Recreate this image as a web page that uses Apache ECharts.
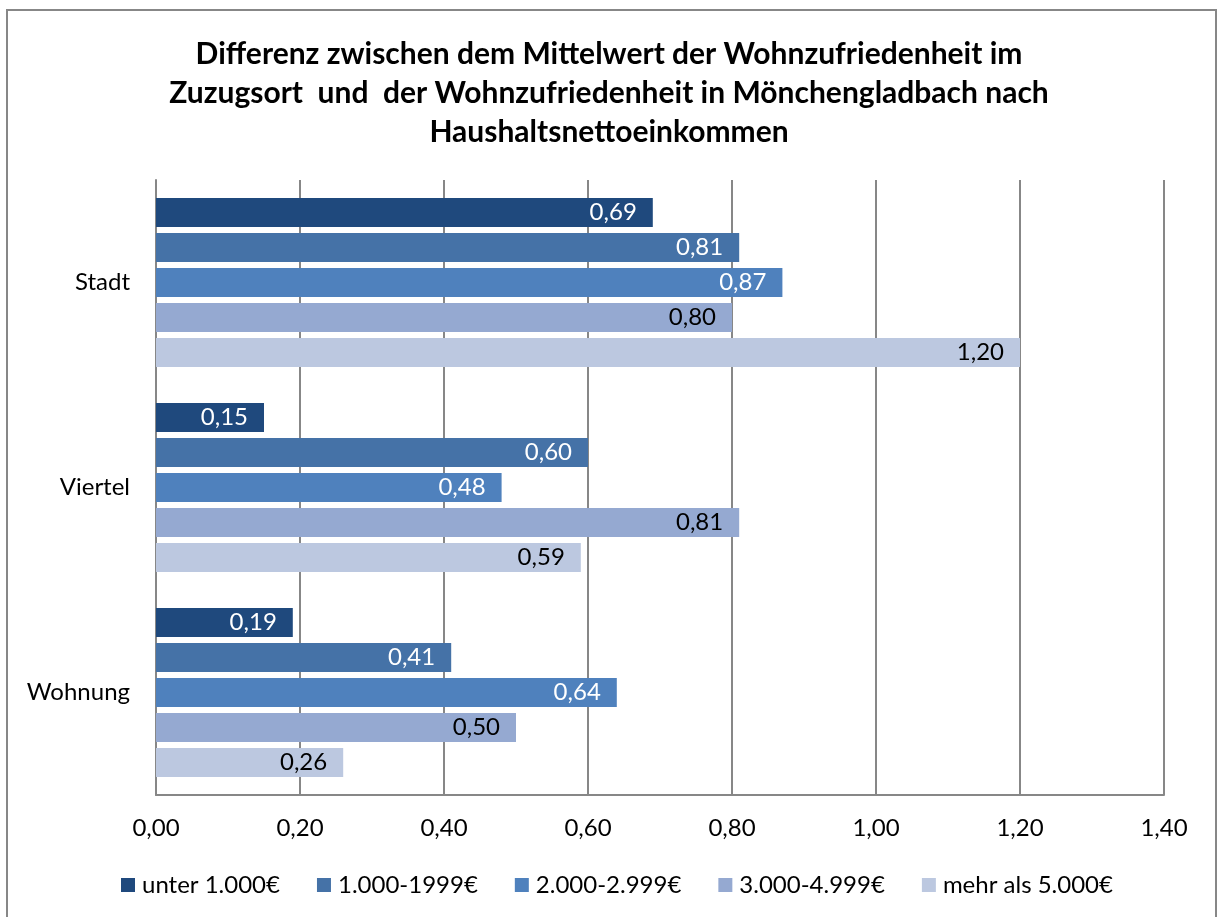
<!DOCTYPE html>
<html>
<head>
<meta charset="utf-8">
<style>
  html, body { margin: 0; padding: 0; background: #fff; }
  #chart { width: 1218px; height: 917px; }
</style>
<script src="https://cdn.jsdelivr.net/npm/echarts@6/dist/echarts.min.js"></script>
</head>
<body>
<div id="chart"></div>
<script>
// Kategorien (von oben nach unten) und Einkommensgruppen
const categories = ['Stadt', 'Viertel', 'Wohnung'];
const incomeGroups = ['unter 1.000€', '1.000-1999€', '2.000-2.999€', '3.000-4.999€', 'mehr als 5.000€'];

// Differenz je Einkommensgruppe für Stadt, Viertel, Wohnung
const unter1000 = [0.69, 0.15, 0.19];
const von1000bis1999 = [0.81, 0.60, 0.41];
const von2000bis2999 = [0.87, 0.48, 0.64];
const von3000bis4999 = [0.80, 0.81, 0.50];
const mehrAls5000 = [1.20, 0.59, 0.26];

const xTicks = [0, 0.2, 0.4, 0.6, 0.8, 1.0, 1.2, 1.4];

const seriesValues = [unter1000, von1000bis1999, von2000bis2999, von3000bis4999, mehrAls5000];
const colors = ['#1f497d', '#4572a7', '#4f81bd', '#95a9d1', '#bcc8e0'];
const labelColors = ['#ffffff', '#ffffff', '#ffffff', '#000000', '#000000'];

const FONT = 'Lato, Carlito, "Liberation Sans", sans-serif';
const fmt = v => v.toFixed(2).replace('.', ',');

const chart = echarts.init(document.getElementById('chart'), null, { renderer: 'canvas' });

chart.setOption({
  backgroundColor: '#ffffff',
  animation: false,
  color: colors,
  title: {
    text: 'Differenz zwischen dem Mittelwert der Wohnzufriedenheit im\nZuzugsort  und  der Wohnzufriedenheit in Mönchengladbach nach\nHaushaltsnettoeinkommen',
    left: 'center',
    top: 30,
    textStyle: {
      fontFamily: FONT,
      fontWeight: 'bold',
      fontSize: 30,
      lineHeight: 39,
      align: 'center',
      color: '#000'
    }
  },
  graphic: [{
    type: 'rect',
    shape: { x: 7, y: 10, width: 1209, height: 930 },
    style: { fill: 'none', stroke: '#878787', lineWidth: 2 },
    silent: true
  }],
  legend: {
    data: incomeGroups,
    left: 121,
    top: 873,
    padding: 0,
    itemWidth: 14,
    itemHeight: 14,
    itemGap: 37,
    icon: 'rect',
    textStyle: { fontFamily: FONT, fontSize: 24, color: '#000', padding: [0, 0, 0, 2] }
  },
  grid: { left: 156, right: 54, top: 180, bottom: 122, containLabel: false },
  xAxis: {
    type: 'value',
    min: xTicks[0],
    max: xTicks[xTicks.length - 1],
    interval: 0.2,
    axisLine: { show: true, lineStyle: { color: '#878787', width: 2 } },
    axisTick: { show: false },
    axisLabel: {
      margin: 21,
      fontFamily: FONT,
      fontSize: 24,
      color: '#000',
      formatter: v => fmt(v)
    },
    splitLine: { show: true, lineStyle: { color: '#878787', width: 2 } }
  },
  yAxis: {
    type: 'category',
    data: categories,
    inverse: true,
    axisLine: { show: true, lineStyle: { color: '#878787', width: 2 } },
    axisTick: { show: false },
    axisLabel: { margin: 26, fontFamily: FONT, fontSize: 24, color: '#000' }
  },
  series: seriesValues.map((vals, i) => ({
    name: incomeGroups[i],
    type: 'bar',
    data: vals,
    barGap: '20%',
    barCategoryGap: '17.5%',
    itemStyle: { color: colors[i] },
    label: {
      show: true,
      position: 'insideRight',
      distance: 16,
      fontFamily: FONT,
      fontSize: 24,
      color: labelColors[i],
      formatter: p => fmt(p.value)
    }
  }))
});
</script>
</body>
</html>
